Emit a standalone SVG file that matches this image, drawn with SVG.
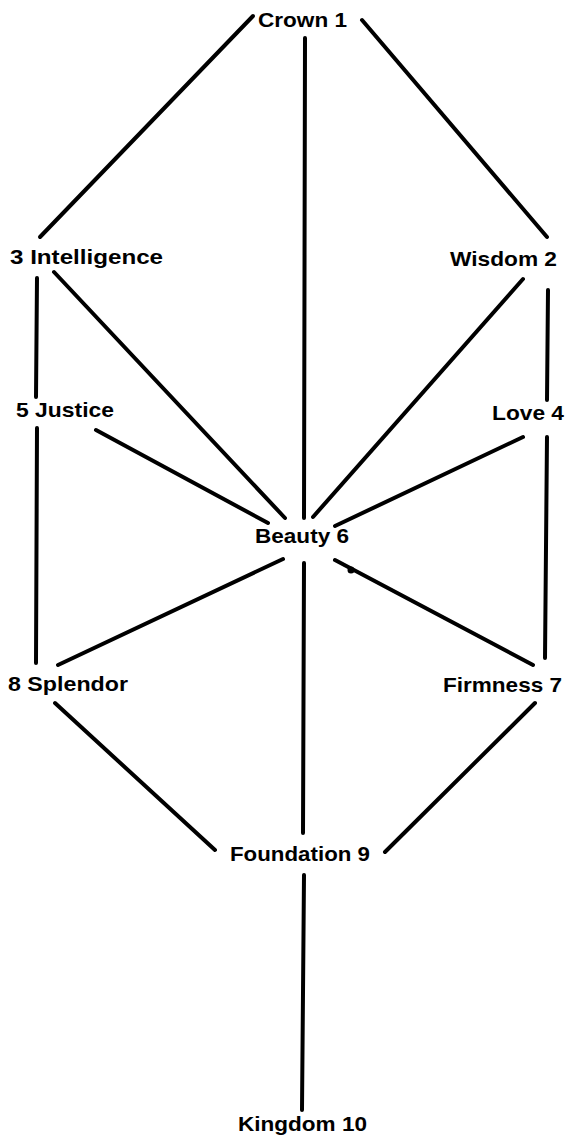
<svg xmlns="http://www.w3.org/2000/svg" width="565" height="1141" viewBox="0 0 565 1141">
<style>
.bg{fill:#ffffff}
.lbl{font-family:"Liberation Sans",Arial,sans-serif;font-weight:bold;font-size:21px;fill:#000}
.edge{stroke:#000;stroke-width:4;stroke-linecap:round;fill:none}
</style>
<rect class="bg" width="565" height="1141"/>
<g id="connectors">
<line class="edge" x1="253" y1="16" x2="40" y2="237"/>
<line class="edge" x1="362" y1="20" x2="547" y2="237"/>
<line class="edge" x1="305" y1="38" x2="304" y2="518"/>
<line class="edge" x1="37" y1="278" x2="36" y2="397"/>
<line class="edge" x1="37" y1="428" x2="36" y2="663"/>
<line class="edge" x1="54" y1="272" x2="285" y2="518"/>
<line class="edge" x1="96" y1="430" x2="268" y2="523"/>
<line class="edge" x1="523" y1="279" x2="313" y2="517"/>
<line class="edge" x1="548" y1="290" x2="547" y2="400"/>
<line class="edge" x1="523" y1="437" x2="335" y2="526"/>
<line class="edge" x1="547" y1="437" x2="545" y2="658"/>
<line class="edge" x1="283" y1="559" x2="58" y2="665"/>
<line class="edge" x1="335" y1="560" x2="533" y2="665"/>
<circle cx="351" cy="570" r="3.5" fill="#000"/>
<line class="edge" x1="304" y1="563" x2="303" y2="833"/>
<line class="edge" x1="55" y1="703" x2="215" y2="850"/>
<line class="edge" x1="535" y1="703" x2="385" y2="852"/>
<line class="edge" x1="304" y1="875" x2="302" y2="1110"/>
</g>
<g id="crown"><text class="lbl" x="258" y="27" textLength="89" lengthAdjust="spacingAndGlyphs">Crown 1</text></g>
<g id="intelligence"><text class="lbl" x="10" y="264" textLength="153" lengthAdjust="spacingAndGlyphs">3 Intelligence</text></g>
<g id="wisdom"><text class="lbl" x="450" y="266" textLength="107" lengthAdjust="spacingAndGlyphs">Wisdom 2</text></g>
<g id="justice"><text class="lbl" x="16" y="417" textLength="98" lengthAdjust="spacingAndGlyphs">5 Justice</text></g>
<g id="love"><text class="lbl" x="492" y="420" textLength="72" lengthAdjust="spacingAndGlyphs">Love 4</text></g>
<g id="beauty"><text class="lbl" x="255" y="543" textLength="94" lengthAdjust="spacingAndGlyphs">Beauty 6</text></g>
<g id="splendor"><text class="lbl" x="8" y="691" textLength="120" lengthAdjust="spacingAndGlyphs">8 Splendor</text></g>
<g id="firmness"><text class="lbl" x="443" y="692" textLength="119" lengthAdjust="spacingAndGlyphs">Firmness 7</text></g>
<g id="foundation"><text class="lbl" x="230" y="861" textLength="140" lengthAdjust="spacingAndGlyphs">Foundation 9</text></g>
<g id="kingdom"><text class="lbl" x="238" y="1131" textLength="129" lengthAdjust="spacingAndGlyphs">Kingdom 10</text></g>
</svg>
